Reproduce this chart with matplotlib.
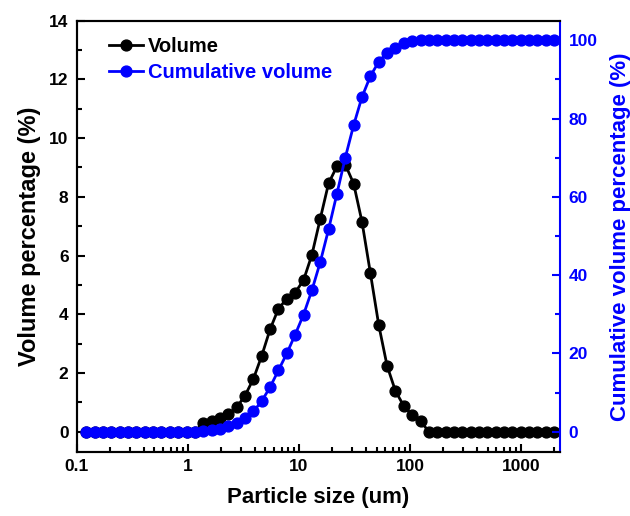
import matplotlib.pyplot as plt
from matplotlib.ticker import MultipleLocator, NullFormatter

plt.rcParams['font.family'] = ['Liberation Sans', 'DejaVu Sans']
plt.rcParams['font.weight'] = 'bold'

# particle size channels (um)
size = [0.122, 0.145, 0.172, 0.204, 0.243, 0.289, 0.344, 0.409, 0.486, 0.578,
        0.688, 0.818, 0.972, 1.156, 1.375, 1.635, 1.945, 2.312, 2.75, 3.27,
        3.89, 4.62, 5.5, 6.54, 7.78, 9.25, 11.0, 13.08, 15.56, 18.5,
        22.0, 26.16, 31.11, 37.0, 44.0, 52.33, 62.23, 74.0, 88.0, 104.7,
        124.5, 148.0, 176.0, 209.3, 248.9, 296.0, 352.0, 418.6, 497.8, 592.0,
        704.0, 837.2, 995.6, 1184.0, 1408.0, 1674.0, 2000.0]

# volume (%)
volume = [0, 0, 0, 0, 0, 0, 0, 0, 0, 0,
          0, 0, 0, 0, 0.31, 0.37, 0.48, 0.60, 0.83, 1.23,
          1.80, 2.58, 3.49, 4.19, 4.53, 4.74, 5.16, 6.02, 7.25, 8.46,
          9.04, 9.10, 8.45, 7.15, 5.41, 3.64, 2.25, 1.39, 0.88, 0.57,
          0.37, 0, 0, 0, 0, 0, 0, 0, 0, 0,
          0, 0, 0, 0, 0, 0, 0]

# cumulative volume (%)
cumul = [0, 0, 0, 0, 0, 0, 0, 0, 0, 0,
         0, 0, 0, 0, 0.1, 0.4, 0.8, 1.4, 2.25, 3.5,
         5.2, 7.8, 11.4, 15.7, 20.0, 24.8, 29.9, 36.1, 43.3, 51.7,
         60.8, 70.0, 78.3, 85.5, 90.8, 94.5, 96.8, 98.1, 99.2, 99.7,
         100, 100, 100, 100, 100, 100, 100, 100, 100, 100,
         100, 100, 100, 100, 100, 100, 100]

fig = plt.figure(figsize=(6.3, 5.16), dpi=100)
ax = fig.add_axes([0.122, 0.1234, 0.767, 0.8366])
ax2 = ax.twinx()

l1, = ax.plot(size, volume, color='black', marker='o', markersize=7.8, linewidth=2, label='Volume')
l2, = ax2.plot(size, cumul, color='#0000ff', marker='o', markersize=7.8, linewidth=2, label='Cumulative volume')

ax.set_xscale('log')
ax.set_xlim(0.1, 2250)
ax.set_ylim(-0.7, 14)
ax2.set_ylim(-5.25, 105)

ax.set_xticks([0.1, 1, 10, 100, 1000])
ax.set_xticklabels(['0.1', '1', '10', '100', '1000'])
ax.xaxis.set_minor_formatter(NullFormatter())
ax.yaxis.set_major_locator(MultipleLocator(2))
ax.yaxis.set_minor_locator(MultipleLocator(1))
ax2.yaxis.set_major_locator(MultipleLocator(20))
ax2.yaxis.set_minor_locator(MultipleLocator(10))

ax.tick_params(which='major', direction='in', length=6, width=1.5, labelsize=12.5, pad=6)
ax.tick_params(which='minor', direction='in', length=3.5, width=1.5)
ax.tick_params(axis='x', which='major', pad=5)
ax2.tick_params(which='major', direction='in', length=6, width=1.5, labelsize=12.5,
                colors='#0000ff', pad=6)
ax2.tick_params(which='minor', direction='in', length=3.5, width=1.5, colors='#0000ff')

for s in ['left', 'bottom', 'top']:
    ax.spines[s].set_linewidth(1.5)
    ax2.spines[s].set_linewidth(1.5)
ax2.spines['right'].set_linewidth(1.5)
ax2.spines['right'].set_color('#0000ff')
ax.spines['right'].set_visible(False)

ax.set_xlabel('Particle size (um)', fontsize=16, fontweight='bold', labelpad=9)
ax.set_ylabel('Volume percentage (%)', fontsize=17, fontweight='bold', labelpad=6)
ax2.set_ylabel('Cumulative volume percentage (%)', fontsize=16, fontweight='bold',
               color='#0000ff', labelpad=9)

leg = ax2.legend(handles=[l1, l2], loc='upper left', frameon=False, fontsize=14.5,
                 handlelength=1.7, handletextpad=0.25, labelspacing=0.38,
                 bbox_to_anchor=(0.028, 1.005), labelcolor=['black', '#0000ff'])

fig.savefig('out.png', dpi=100)
